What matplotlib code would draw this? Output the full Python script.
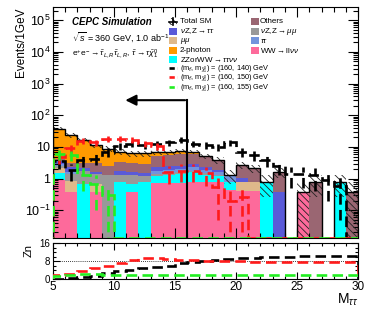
import numpy as np
import matplotlib
matplotlib.use('Agg')
import matplotlib.pyplot as plt
from matplotlib.patches import Rectangle
from matplotlib.lines import Line2D
from matplotlib.ticker import FixedLocator, MultipleLocator, LogLocator, NullFormatter

plt.rcParams['font.family'] = ['Liberation Sans', 'DejaVu Sans']
plt.rcParams['mathtext.fontset'] = 'custom'
plt.rcParams['mathtext.rm'] = 'Liberation Sans'
plt.rcParams['mathtext.it'] = 'Liberation Sans:italic'
plt.rcParams['mathtext.bf'] = 'Liberation Sans:bold'
plt.rcParams['hatch.linewidth'] = 0.6

# bins of M_tautau, 1 GeV wide
edges = np.arange(5, 31)

# backgrounds, stacked from bottom to top
ww_llvv = [0.9, 0.38, 0, 0.38, 0, 0, 0.38, 0, 0.75, 0.75, 0.75, 0.8, 0.8, 0.8, 0.43, 0.4, 0.4, 0, 0, 0, 0.37, 0, 0, 0, 0]
zz_ww_ttvv = [0.6, 0, 0.7, 0, 0, 0.8, 0.3, 0.8, 0.5, 0.6, 0.7, 0.8, 0.5, 0.4, 0.36, 0, 0, 0.76, 0, 0, 0, 0, 0, 0.76, 0]
mumu = [0.6, 0.45, 0, 0.3, 0, 0, 0, 0, 0, 0, 0, 0, 0, 0, 0, 0.36, 0.4, 0, 0, 0, 0, 0, 0, 0, 0]
vz_mumu = [0.5, 0.6, 1.0, 0.7, 1.3, 0.5, 0.6, 0.4, 0.2, 0.2, 0.2, 0.2, 0.2, 0.1, 0, 0, 0, 0, 0, 0, 0, 0, 0, 0, 0]
tautau = [0.3, 0.2, 0, 0, 0, 0, 0, 0, 0.3, 0.3, 0.4, 0.5, 0.4, 0.3, 0.5, 0, 0, 0, 0, 0, 0, 0, 0, 0, 0]
vz_tautau = [0.8, 0.7, 0.4, 0.3, 0, 0.5, 0.3, 0.3, 0.5, 0.6, 0.5, 0.5, 0.5, 0.3, 0, 0.3, 0, 0, 0.38, 0, 0, 0, 0, 0, 0]
others = [0.5, 0.8, 1.0, 1.5, 1.2, 1.5, 1.6, 1.5, 3.0, 3.0, 3.5, 3.4, 2.6, 1.8, 0, 1.6, 1.3, 0, 1.26, 0, 0, 0.76, 0, 0, 0.38]
two_photon = [34, 20, 13, 8.2, 6.4, 3.7, 3.1, 3.3, 1.7, 1.35, 1.2, 0.8, 0.2, 0.1, 0, 0, 0, 0, 0, 0, 0, 0, 0, 0, 0]
sm_err = [5, 4, 3, 2.2, 1.8, 1.4, 1.3, 1.3, 1.2, 1.2, 1.2, 1.2, 1.0, 0.9, 0.6, 0.7, 0.6, 0.5, 0.6, 0, 0.37, 0.5, 0, 0.5, 0.38]

# signals
sig140 = [3.5, 1.85, 3.8, 4.3, 7.0, 10.5, 12.5, 11.5, 12.5, 14, 17, 12.5, 11.3, 10, 14, 7, 5.6, 3.8, 2.6, 1.4, 1.4, 1.3, 0.9, 0.6, 0]
err140 = [1.5, 1.0, 1.5, 1.6, 2.0, 2.5, 2.8, 2.6, 2.8, 3.0, 3.3, 2.8, 2.6, 2.5, 3.0, 2.2, 1.9, 1.5, 1.3, 0.9, 0.9, 0.9, 0.7, 0.55, 0]
sig150 = [5, 9, 16, 14, 18, 18, 17, 13, 11, 1.6, 1.8, 1.8, 1.5, 0.55, 0.2, 0.27, 0, 0, 0, 0, 0, 0, 0, 0, 0]
err150 = [2, 2.5, 3.5, 3.2, 3.5, 3.5, 3.4, 3.0, 2.8, 0.9, 1.0, 1.0, 0.9, 0.5, 0.2, 0.25, 0, 0, 0, 0, 0, 0, 0, 0, 0]
sig155 = [6, 5.5, 1.3, 0.7, 0.3, 0, 0, 0, 0, 0, 0, 0, 0, 0, 0, 0, 0, 0, 0, 0, 0, 0, 0, 0, 0]
err155 = [2.0, 2.0, 0.9, 0.6, 0.3, 0, 0, 0, 0, 0, 0, 0, 0, 0, 0, 0, 0, 0, 0, 0, 0, 0, 0, 0, 0]

# significance for a cut M_tautau < x
zn140 = [0.2, 0.4, 0.8, 1.5, 2.5, 3.5, 4.2, 4.8, 5.4, 6.0, 7.0, 7.6, 8.1, 8.5, 8.8, 9.2, 9.5, 9.7, 9.9, 10.0, 10.1, 10.2, 10.3, 10.3, 10.3]
zn150 = [2.0, 2.3, 3.5, 4.8, 5.9, 7.3, 8.6, 9.3, 9.3, 9.0, 8.6, 8.3, 8.1, 8.0, 7.9, 7.8, 7.7, 7.7, 7.6, 7.6, 7.6, 7.5, 7.5, 7.5, 7.5]
zn155 = [1.5, 1.9, 2.1, 2.1, 2.0, 1.9, 1.9, 1.9, 1.9, 1.9, 1.9, 1.9, 1.9, 1.9, 1.9, 1.9, 1.9, 1.9, 1.9, 1.9, 1.9, 1.9, 1.9, 1.9, 1.9]

bkg_layers = [
    (ww_llvv, '#fd6a9b', r'WW$\rightarrow$ll$\nu\nu$'),
    (zz_ww_ttvv, '#00ffff', r'ZZorWW$\rightarrow\tau\tau\nu\nu$'),
    (mumu, '#dfb98a', r'$\mu\mu$'),
    (vz_mumu, '#999999', r'$\nu$Z,Z$\rightarrow\mu\mu$'),
    (tautau, '#7394dc', r'$\tau\tau$'),
    (vz_tautau, '#5a5ad8', r'$\nu$Z,Z$\rightarrow\tau\tau$'),
    (others, '#9a6672', 'Others'),
    (two_photon, '#ff9a00', '2-photon'),
]

ymin, ymax = 0.0133, 2.6e5

fig = plt.figure(figsize=(3.81, 3.10), dpi=100)
ax = fig.add_axes([0.139, 0.232, 0.801, 0.745])
axz = fig.add_axes([0.139, 0.10, 0.801, 0.116])

ax.set_yscale('log')

bottom = np.full(len(edges) - 1, 1e-4)
for vals, col, lab in bkg_layers:
    top = bottom + np.array(vals)
    ax.stairs(top, edges, baseline=bottom, fill=True, color=col, lw=0, zorder=1)
    bottom = top
total = bottom

# stat. uncertainty band
err = np.array(sm_err)
centers = 0.5 * (edges[:-1] + edges[1:])
ax.bar(centers, 2 * err, bottom=total - err, width=1.0, fill=False, hatch='\\\\\\\\\\',
       edgecolor='#222222', linewidth=0, zorder=2)
ax.stairs(total, edges, color='k', lw=1.0, zorder=3)

sig_style = [
    (sig140, err140, 'black'),
    (sig150, err150, '#ff1a1a'),
    (sig155, err155, '#22ee22'),
]
for vals, errs, col in sig_style:
    v = np.array(vals, dtype=float)
    drawn = np.where(v > 0, v, ymin * 1.03)
    ax.stairs(drawn, edges, color=col, lw=1.9, ls=(0, (4, 2)), zorder=5)
    m = v > 0
    eb = ax.errorbar(centers[m], v[m], yerr=np.array(errs)[m], fmt='none', ecolor=col,
                     elinewidth=1.9, zorder=5)
    eb[2][0].set_linestyle((0, (4, 2)))

# cut arrow
ax.plot([16, 16], [ymin, 300], color='k', lw=1.5, zorder=6)
ax.annotate('', xy=(10.7, 300), xytext=(16.05, 300),
            arrowprops=dict(arrowstyle='-|>', lw=1.5, color='k', mutation_scale=16), zorder=6)

ax.set_xlim(5, 30)
ax.set_ylim(ymin, ymax)
ax.yaxis.set_major_locator(FixedLocator([1e-1, 1, 10, 1e2, 1e3, 1e4, 1e5]))
ax.set_yticklabels([r'$10^{-1}$', '1', '10', r'$10^{2}$', r'$10^{3}$', r'$10^{4}$', r'$10^{5}$'])
ax.yaxis.set_minor_locator(LogLocator(base=10, subs=np.arange(2, 10), numticks=20))
ax.yaxis.set_minor_formatter(NullFormatter())
ax.xaxis.set_major_locator(MultipleLocator(5))
ax.xaxis.set_minor_locator(MultipleLocator(1))
ax.tick_params(which='both', direction='in', top=True, right=True, labelbottom=False,
               labelsize=9, pad=2)
ax.tick_params(which='major', length=7, width=0.8)
ax.tick_params(which='minor', length=3.5, width=0.8)

fig.text(0.055, 0.977, 'Events/1GeV', rotation=90, ha='center', va='top', fontsize=8.5)

# texts
ax.text(0.062, 0.935, 'CEPC Simulation', transform=ax.transAxes, fontsize=7,
        fontweight='bold', fontstyle='italic', va='center')
ax.text(0.062, 0.870, r'$\sqrt{s}$ = 360 GeV, 1.0 ab$^{-1}$', transform=ax.transAxes,
        fontsize=6.5, va='center')
ax.text(0.062, 0.797,
        r'e$^{+}$e$^{-}$$\rightarrow\tilde{\tau}_{L,R}\tilde{\tau}_{L,R}$, $\tilde{\tau}\rightarrow\tau\tilde{\chi}^{0}_{1}$',
        transform=ax.transAxes, fontsize=6, va='center')

# legend, drawn by hand
def px(x, y):
    return (x - 53) / 305.0, (238 - y) / 231.0

left_rows = [21.7, 31.0, 40.5, 50.0, 59.8, 67.5, 77.0, 86.5]
right_rows = [21.7, 31.0, 40.5, 50.0]
fs_leg = 5.8
sym_x = 169
txt_x = 180

def box(x, y, col, hatch=None):
    x0, y0 = px(x, y + 3.5)
    w = 8 / 305.0
    h = 7 / 231.0
    if hatch:
        ax.add_patch(Rectangle((x0, y0), w, h, transform=ax.transAxes, fill=False,
                               hatch=hatch, lw=0, edgecolor='k', zorder=7))
    else:
        ax.add_patch(Rectangle((x0, y0), w, h, transform=ax.transAxes, facecolor=col,
                               lw=0, zorder=7))

# Total SM
box(sym_x, left_rows[0], None, hatch='\\\\\\\\\\')
xa, ya = px(sym_x, left_rows[0])
xb, _ = px(sym_x + 8, left_rows[0])
ax.add_line(Line2D([xa, xb], [ya, ya], transform=ax.transAxes, color='k', lw=1.2, zorder=8))
xc, yc0 = px(sym_x + 4, left_rows[0] + 3.5)
_, yc1 = px(sym_x + 4, left_rows[0] - 3.5)
ax.add_line(Line2D([xc, xc], [yc0, yc1], transform=ax.transAxes, color='k', lw=1.2, zorder=8))
tx, ty = px(txt_x, left_rows[0])
ax.text(tx, ty, 'Total SM', transform=ax.transAxes, fontsize=fs_leg, va='center')

left_bkg = [bkg_layers[5], bkg_layers[2], bkg_layers[7], bkg_layers[1]]
for (vals, col, lab), row in zip(left_bkg, left_rows[1:5]):
    box(sym_x, row, col)
    tx, ty = px(txt_x, row)
    ax.text(tx, ty, lab, transform=ax.transAxes, fontsize=fs_leg, va='center')

sig_labels = [
    r'(m$_{\tilde{\tau}}$, m$_{\tilde{\chi}^{0}_{1}}$) = (160, 140) GeV',
    r'(m$_{\tilde{\tau}}$, m$_{\tilde{\chi}^{0}_{1}}$) = (160, 150) GeV',
    r'(m$_{\tilde{\tau}}$, m$_{\tilde{\chi}^{0}_{1}}$) = (160, 155) GeV',
]
for (vals, errs, col), lab, row in zip(sig_style, sig_labels, left_rows[5:]):
    xa, ya = px(sym_x, row)
    xb, _ = px(sym_x + 8, row)
    ax.add_line(Line2D([xa, xb], [ya, ya], transform=ax.transAxes, color=col, lw=1.9,
                       ls=(0, (2, 1)), zorder=8))
    tx, ty = px(txt_x, row + 1.2)
    ax.text(tx, ty, lab, transform=ax.transAxes, fontsize=5.3, va='center')

right_bkg = [bkg_layers[6], bkg_layers[3], bkg_layers[4], bkg_layers[0]]
for (vals, col, lab), row in zip(right_bkg, right_rows):
    box(251, row, col)
    tx, ty = px(260, row)
    ax.text(tx, ty, lab, transform=ax.transAxes, fontsize=fs_leg, va='center')

# lower panel: significance
for zn, col in [(zn140, 'black'), (zn150, '#ff1a1a'), (zn155, '#22ee22')]:
    axz.stairs(zn, edges, color=col, lw=1.9, ls=(0, (4, 2)), zorder=3)
axz.axhline(8, color='k', lw=0.6, ls=(0, (1, 1.5)), zorder=2)
axz.set_xlim(5, 30)
axz.set_ylim(0, 16)
axz.yaxis.set_major_locator(FixedLocator([0, 8, 16]))
axz.yaxis.set_minor_locator(MultipleLocator(2))
axz.xaxis.set_major_locator(MultipleLocator(5))
axz.xaxis.set_minor_locator(MultipleLocator(1))
axz.tick_params(which='both', direction='in', top=True, right=True)
axz.tick_params(which='major', length=5, width=0.8)
axz.tick_params(which='minor', length=2.5, width=0.8)
axz.tick_params(axis='x', labelsize=8.5, pad=1.5)
axz.tick_params(axis='y', labelsize=7, pad=2)

fig.text(0.075, 0.212, 'Zn', rotation=90, ha='center', va='top', fontsize=8)
fig.text(0.94, 0.008, r'M$_{\tau\tau}$', ha='right', va='bottom', fontsize=10)

fig.savefig('out.png', dpi=100)
